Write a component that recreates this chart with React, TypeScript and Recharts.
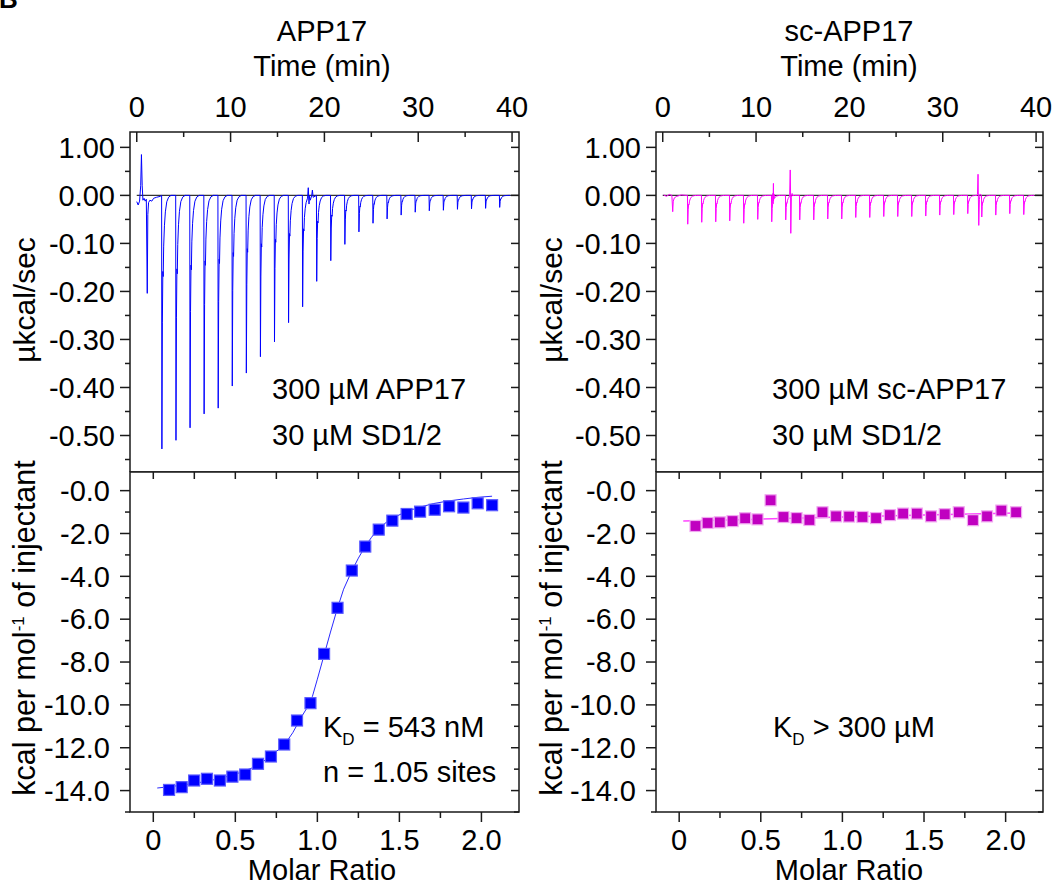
import React from 'react';
import {
  LineChart,
  Line,
  XAxis,
  YAxis,
  ReferenceLine,
  ReferenceArea,
  ComposedChart,
  Scatter,
} from 'recharts';

const FONT = '"Liberation Sans", Arial, Helvetica, sans-serif';
const AXIS = '#1a1a1a';

// ---------- axes of the raw thermograms ----------
const timeMajorTicks = [0, 10, 20, 30, 40];
const timeTickLabels = ['0', '10', '20', '30', '40'];
const timeMinorTicks = [5, 15, 25, 35];
const TIME_DOMAIN: [number, number] = [-0.72, 40.74];

const powerMajorTicks = [0.1, 0, -0.1, -0.2, -0.3, -0.4, -0.5];
const powerTickLabels = ['1.00', '0.00', '-0.10', '-0.20', '-0.30', '-0.40', '-0.50'];
const powerMinorTicks = [0.05, -0.05, -0.15, -0.25, -0.35, -0.45, -0.55];
const POWER_DOMAIN: [number, number] = [-0.576, 0.132];

// ---------- axes of the binding isotherms ----------
const ratioMajorTicks = [0, 0.5, 1.0, 1.5, 2.0];
const ratioTickLabels = ['0', '0.5', '1.0', '1.5', '2.0'];
const ratioMinorTicks = [0.25, 0.75, 1.25, 1.75];
const RATIO_DOMAIN: [number, number] = [-0.142, 2.229];

const heatMajorTicks = [0, -2, -4, -6, -8, -10, -12, -14];
const heatTickLabels = ['-0.0', '-2.0', '-4.0', '-6.0', '-8.0', '-10.0', '-12.0', '-14.0'];
const heatMinorTicks = [-1, -3, -5, -7, -9, -11, -13, -15];
const HEAT_DOMAIN: [number, number] = [-15, 0.87];

// ---------- raw thermogram data ----------
const injectionTimes = [
  2.65, 4.15, 5.65, 7.15, 8.65, 10.15, 11.65, 13.15, 14.65, 16.15, 17.65, 19.15, 20.65,
  22.15, 23.65, 25.15, 26.65, 28.15, 29.65, 31.15, 32.65, 34.15, 35.65, 37.15, 38.65,
];
const app17PeakDepths = [
  -0.528, -0.51, -0.484, -0.455, -0.443, -0.397, -0.37, -0.336, -0.305, -0.265, -0.232,
  -0.179, -0.136, -0.102, -0.076, -0.058, -0.049, -0.041, -0.035, -0.032, -0.031, -0.029,
  -0.028, -0.027, -0.025,
];
const scPeakDepths = [
  -0.06, -0.056, -0.055, -0.053, -0.058, -0.05, -0.055, -0.051, -0.051, -0.051, -0.049,
  -0.049, -0.046, -0.046, -0.044, -0.044, -0.044, -0.043, -0.041, -0.04, -0.038, -0.045,
  -0.041, -0.038, -0.04,
];
// shape of one injection peak: [minutes after injection, fraction of peak depth]
const peakShape: [number, number][] = [
  [0, 0], [0.03, 1], [0.08, 0.5], [0.13, 0.3], [0.17, 0.32], [0.22, 0.2], [0.3, 0.12],
  [0.4, 0.065], [0.55, 0.025], [0.75, 0.007], [1.0, 0],
];
const app17Lead: [number, number][] = [
  [0.0, -0.013], [0.15, -0.02], [0.3, -0.012], [0.42, 0.02], [0.5, 0.085], [0.58, 0.02],
  [0.66, -0.01], [0.78, -0.006], [0.9, -0.012], [1.02, -0.008], [1.12, -0.204], [1.18, -0.04],
  [1.26, -0.015], [1.4, -0.01], [1.6, -0.012], [1.8, -0.006], [2.1, -0.004], [2.5, -0.002],
];
const app17Extras: [number, number][] = [
  [18.28, 0.016], [18.36, -0.018], [18.5, -0.01], [18.72, 0.011], [18.8, -0.004],
];
const scLead: [number, number][] = [
  [0.1, 0.001], [0.4, -0.002], [0.7, 0.002], [0.98, 0], [1.07, -0.034], [1.13, -0.012],
  [1.25, -0.005], [1.5, -0.002], [2.0, 0.001], [2.5, 0],
];
const scExtras: [number, number][] = [
  [11.8, 0.004], [11.86, 0.025], [11.93, 0.003], [13.6, 0.002], [13.66, 0.053],
  [13.72, -0.079], [13.78, -0.005], [13.86, 0.004], [33.72, 0.002], [33.78, 0.044],
  [33.86, -0.0625], [33.93, -0.008], [34.0, 0.003],
];
const TRACE_END = 39.8;

// ---------- integrated heats ----------
const app17Ratio = [
  0.096, 0.173, 0.249, 0.327, 0.406, 0.482, 0.56, 0.638, 0.717, 0.798, 0.876, 0.958, 1.041,
  1.123, 1.21, 1.292, 1.374, 1.457, 1.544, 1.626, 1.715, 1.803, 1.89, 1.977, 2.065,
];
const app17Heat = [
  -13.97, -13.84, -13.53, -13.45, -13.53, -13.35, -13.25, -12.75, -12.41, -11.85, -10.73,
  -9.92, -7.62, -5.47, -3.73, -2.61, -1.82, -1.4, -1.09, -0.98, -0.89, -0.73, -0.79, -0.59,
  -0.68,
];
const app17FitRatio = [
  0.024, 0.1, 0.2, 0.3, 0.4, 0.5, 0.6, 0.7, 0.8, 0.85, 0.9, 0.94, 0.97, 1.0, 1.04, 1.08, 1.12,
  1.16, 1.21, 1.25, 1.29, 1.33, 1.37, 1.42, 1.46, 1.54, 1.62, 1.71, 1.8, 1.89, 1.98, 2.065,
];
const app17FitHeat = [
  -13.88, -13.82, -13.72, -13.6, -13.45, -13.24, -12.95, -12.5, -11.85, -11.3, -10.6, -10.1,
  -9.6, -8.8, -7.7, -6.6, -5.55, -4.6, -3.75, -3.15, -2.62, -2.18, -1.8, -1.48, -1.28, -0.98,
  -0.78, -0.6, -0.48, -0.39, -0.31, -0.26,
];
const scRatio = [
  0.1, 0.174, 0.249, 0.327, 0.404, 0.48, 0.56, 0.639, 0.719, 0.798, 0.878, 0.961, 1.041, 1.123,
  1.206, 1.29, 1.372, 1.456, 1.543, 1.627, 1.713, 1.8, 1.886, 1.974, 2.064,
];
const scHeat = [
  -1.65, -1.51, -1.48, -1.42, -1.29, -1.34, -0.45, -1.23, -1.28, -1.37, -1.01, -1.2, -1.21,
  -1.23, -1.28, -1.14, -1.07, -1.07, -1.2, -1.1, -1.01, -1.38, -1.2, -0.93, -1.01,
];
const scFitRatio = [0.025, 0.5, 1.0, 1.5, 2.064];
const scFitHeat = [-1.42, -1.33, -1.23, -1.14, -1.04];

// ---------- build the tables the library needs ----------
function buildTrace(
  lead: [number, number][],
  depths: number[],
  extras: [number, number][],
) {
  const pts: { t: number; p: number }[] = lead.map(([t, p]) => ({ t, p }));
  injectionTimes.forEach((t0, i) => {
    peakShape.forEach(([dt, f]) => pts.push({ t: t0 + dt, p: depths[i] * f }));
  });
  extras.forEach(([t, p]) => pts.push({ t, p }));
  pts.push({ t: TRACE_END, p: 0 });
  pts.sort((a, b) => a.t - b.t);
  return pts;
}
const zip = (xs: number[], ys: number[]) => xs.map((x, i) => ({ x, y: ys[i] }));

const app17Trace = buildTrace(app17Lead, app17PeakDepths, app17Extras);
const scTrace = buildTrace(scLead, scPeakDepths, scExtras);
const app17Points = zip(app17Ratio, app17Heat);
const app17Fit = zip(app17FitRatio, app17FitHeat);
const scPoints = zip(scRatio, scHeat);
const scFit = zip(scFitRatio, scFitHeat);

const sortDesc = (a: number[]) => [...a].sort((x, y) => y - x);
const sortAsc = (a: number[]) => [...a].sort((x, y) => x - y);
const timeTicks = sortAsc([...timeMajorTicks, ...timeMinorTicks]);
const powerTicks = sortDesc([...powerMajorTicks, ...powerMinorTicks]);
const ratioTicks = sortAsc([...ratioMajorTicks, ...ratioMinorTicks]);
const heatTicks = sortDesc([...heatMajorTicks, ...heatMinorTicks]);

// ---------- tick renderers ----------
const TICK_FONT = 29;

const TopTimeTick = (props: any) => {
  const { x, y, payload } = props;
  const idx = timeMajorTicks.indexOf(payload.value);
  const major = idx >= 0;
  return (
    <g>
      <line x1={x} x2={x} y1={y} y2={y + (major ? 10 : 5)} stroke={AXIS} strokeWidth={1.5} />
      {major && (
        <text x={x} y={y - 15.5} textAnchor="middle" fontSize={TICK_FONT} fontFamily={FONT} fill="#000">
          {timeTickLabels[idx]}
        </text>
      )}
    </g>
  );
};

const makeRatioTick = (ph: number) => (props: any) => {
  const { x, y, payload } = props;
  const idx = ratioMajorTicks.indexOf(payload.value);
  const major = idx >= 0;
  return (
    <g>
      <line x1={x} x2={x} y1={y} y2={y + (major ? 10 : 6)} stroke={AXIS} strokeWidth={1.5} />
      <line x1={x} x2={x} y1={y - ph} y2={y - ph + 7} stroke={AXIS} strokeWidth={1.5} />
      {major && (
        <text x={x} y={y + 37.5} textAnchor="middle" fontSize={TICK_FONT} fontFamily={FONT} fill="#000">
          {ratioTickLabels[idx]}
        </text>
      )}
    </g>
  );
};

const makeYTick =
  (majors: number[], labels: string[], pw: number, gap: number) => (props: any) => {
    const { x, y, payload } = props;
    const idx = majors.indexOf(payload.value);
    const major = idx >= 0;
    const len = major ? 10 : 5;
    const inLen = major ? 8 : 5;
    return (
      <g>
        <line x1={x - len} x2={x} y1={y} y2={y} stroke={AXIS} strokeWidth={1.5} />
        <line x1={x + pw} x2={x + pw - inLen} y1={y} y2={y} stroke={AXIS} strokeWidth={1.5} />
        {major && (
          <text x={x - gap} y={y + 10.2} textAnchor="end" fontSize={TICK_FONT} fontFamily={FONT} fill="#000">
            {labels[idx]}
          </text>
        )}
      </g>
    );
  };

// ---------- sub plots ----------
const PLOT_LEFT = 130;
const PH = 340;

function TopPlot({
  left,
  width,
  pw,
  trace,
  color,
}: {
  left: number;
  width: number;
  pw: number;
  trace: any[];
  color: string;
}) {
  const H = 472;
  return (
    <div style={{ position: 'absolute', left, top: 0, width, height: H }}>
      <LineChart
        width={width}
        height={H}
        data={trace}
        margin={{ top: 102, right: width - PLOT_LEFT - pw, bottom: 0, left: PLOT_LEFT - 60 }}
      >
        <XAxis
          type="number"
          dataKey="t"
          orientation="top"
          domain={TIME_DOMAIN}
          allowDataOverflow
          ticks={timeTicks}
          interval={0}
          height={30}
          axisLine={false}
          tickLine={false}
          tickSize={0}
          tickMargin={0}
          tick={TopTimeTick}
        />
        <YAxis
          type="number"
          domain={POWER_DOMAIN}
          allowDataOverflow
          ticks={powerTicks}
          interval={0}
          width={60}
          axisLine={false}
          tickLine={false}
          tickSize={0}
          tickMargin={0}
          tick={makeYTick(powerMajorTicks, powerTickLabels, pw, 15)}
        />
        <ReferenceLine
          segment={[
            { x: 0, y: 0 },
            { x: TIME_DOMAIN[1], y: 0 },
          ]}
          stroke="#333"
          strokeWidth={1.2}
        />
        <Line
          type="linear"
          dataKey="p"
          stroke={color}
          strokeWidth={1}
          dot={false}
          activeDot={false}
          isAnimationActive={false}
        />
        <ReferenceArea
          x1={TIME_DOMAIN[0]}
          x2={TIME_DOMAIN[1]}
          y1={POWER_DOMAIN[0]}
          y2={POWER_DOMAIN[1]}
          fill="none"
          fillOpacity={0}
          stroke={AXIS}
          strokeWidth={1.5}
        />
      </LineChart>
    </div>
  );
}

function BottomPlot({
  left,
  width,
  pw,
  points,
  fit,
  fill,
  edge,
  lineColor,
  lineWidth,
  size,
}: {
  left: number;
  width: number;
  pw: number;
  points: any[];
  fit: any[];
  fill: string;
  edge: string;
  lineColor: string;
  lineWidth: number;
  size: number;
}) {
  const H = 422;
  const square = (p: any) => (
    <rect
      x={p.cx - size / 2}
      y={p.cy - size / 2}
      width={size}
      height={size}
      fill={fill}
      stroke={edge}
      strokeWidth={1.2}
    />
  );
  return (
    <div style={{ position: 'absolute', left, top: 462, width, height: H }}>
      <ComposedChart
        width={width}
        height={H}
        margin={{ top: 10, right: width - PLOT_LEFT - pw, bottom: 42, left: PLOT_LEFT - 60 }}
      >
        <XAxis
          type="number"
          dataKey="x"
          orientation="bottom"
          domain={RATIO_DOMAIN}
          allowDataOverflow
          ticks={ratioTicks}
          interval={0}
          height={30}
          axisLine={false}
          tickLine={false}
          tickSize={0}
          tickMargin={0}
          tick={makeRatioTick(PH)}
        />
        <YAxis
          type="number"
          dataKey="y"
          domain={HEAT_DOMAIN}
          allowDataOverflow
          ticks={heatTicks}
          interval={0}
          width={60}
          axisLine={false}
          tickLine={false}
          tickSize={0}
          tickMargin={0}
          tick={makeYTick(heatMajorTicks, heatTickLabels, pw, 20)}
        />
        <Line
          data={fit}
          type="linear"
          dataKey="y"
          stroke={lineColor}
          strokeWidth={lineWidth}
          dot={false}
          activeDot={false}
          isAnimationActive={false}
        />
        <Scatter data={points} dataKey="y" shape={square} isAnimationActive={false} />
        <ReferenceArea
          x1={RATIO_DOMAIN[0]}
          x2={RATIO_DOMAIN[1]}
          y1={HEAT_DOMAIN[0]}
          y2={HEAT_DOMAIN[1]}
          fill="none"
          fillOpacity={0}
          stroke={AXIS}
          strokeWidth={1.5}
        />
      </ComposedChart>
    </div>
  );
}

function Texts() {
  const base = { fontFamily: FONT, fill: '#000' } as const;
  const panel = (dx: number, annX: number, title: string, ann1: string, ann2: string) => (
    <g key={title}>
      <text {...base} x={322 + dx} y={41} fontSize={29} textAnchor="middle">{title}</text>
      <text {...base} x={322 + dx} y={76} fontSize={29} textAnchor="middle">Time (min)</text>
      <text {...base} x={322 + dx} y={880} fontSize={29} textAnchor="middle">Molar Ratio</text>
      <text {...base} transform={`translate(${35 + dx},300) rotate(-90)`} fontSize={30} textAnchor="middle">
        µkcal/sec
      </text>
      <text {...base} transform={`translate(${35 + dx},628) rotate(-90)`} fontSize={30.5} textAnchor="middle">
        kcal per mol
        <tspan fontSize={17} dy={-11}>-1</tspan>
        <tspan dy={11}> of injectant</tspan>
      </text>
      <text {...base} x={annX} y={399} fontSize={29}>{ann1}</text>
      <text {...base} x={annX} y={445} fontSize={29}>{ann2}</text>
    </g>
  );
  return (
    <svg
      width={1052}
      height={884}
      style={{ position: 'absolute', left: 0, top: 0, pointerEvents: 'none' }}
    >
      <text {...base} x={-1} y={8} fontSize={26} fontWeight="bold">B</text>
      {panel(0, 272, 'APP17', '300 µM APP17', '30 µM SD1/2')}
      {panel(527, 772, 'sc-APP17', '300 µM sc-APP17', '30 µM SD1/2')}
      <text {...base} x={323} y={737} fontSize={29}>
        K<tspan fontSize={17} dy={8}>D</tspan>
        <tspan dy={-8}> = 543 nM</tspan>
      </text>
      <text {...base} x={323} y={782} fontSize={29}>n = 1.05 sites</text>
      <text {...base} x={773} y={737} fontSize={29}>
        K<tspan fontSize={17} dy={8}>D</tspan>
        <tspan dy={-8}> &gt; 300 µM</tspan>
      </text>
    </svg>
  );
}

export default function App() {
  return (
    <div
      style={{
        position: 'absolute',
        left: 0,
        top: 0,
        width: 1052,
        height: 884,
        background: '#fff',
        overflow: 'hidden',
      }}
    >
      <TopPlot left={0} width={550} pw={389} trace={app17Trace} color="#0000ff" />
      <TopPlot left={526} width={526} pw={387} trace={scTrace} color="#ff00ff" />
      <BottomPlot
        left={0}
        width={526}
        pw={389}
        points={app17Points}
        fit={app17Fit}
        fill="#0000ff"
        edge="#5a5aff"
        lineColor="#2a2aff"
        lineWidth={1}
        size={11}
      />
      <BottomPlot
        left={526}
        width={526}
        pw={387}
        points={scPoints}
        fit={scFit}
        fill="#c000c0"
        edge="#f0a8f0"
        lineColor="#ff44ff"
        lineWidth={1.5}
        size={11}
      />
      <Texts />
    </div>
  );
}
